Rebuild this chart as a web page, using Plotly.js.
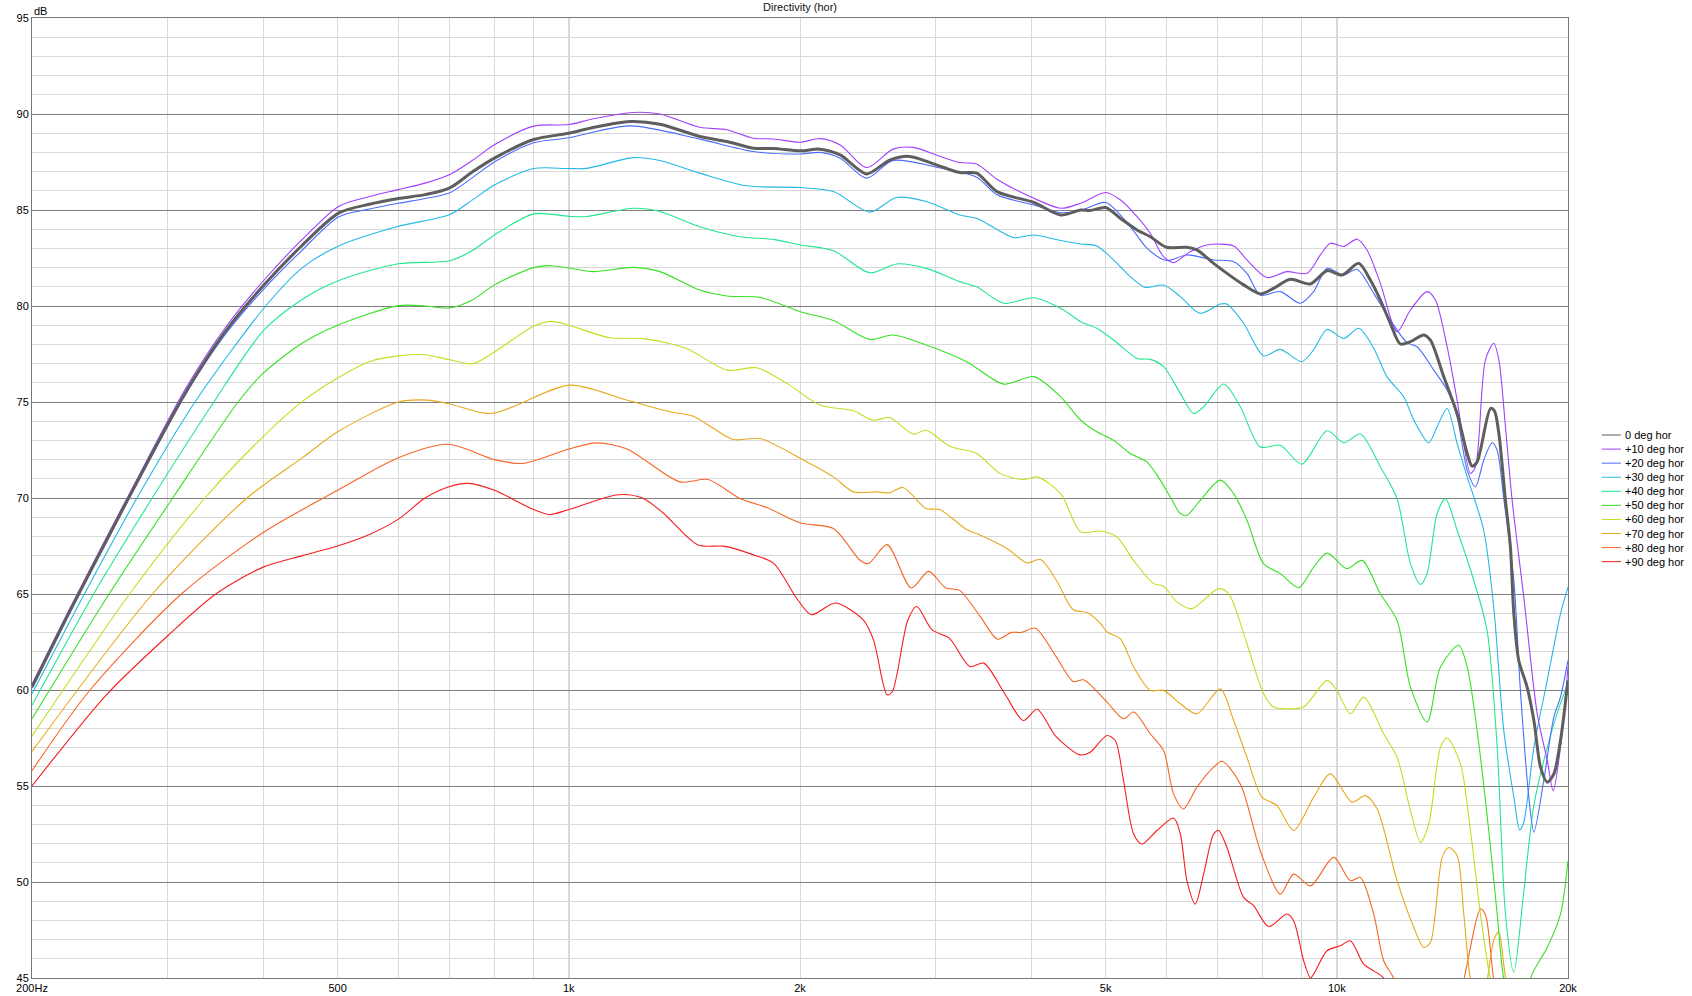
<!DOCTYPE html>
<html>
<head>
<meta charset="utf-8">
<script src="https://cdn.plot.ly/plotly-3.0.1.min.js"></script>
<style>html,body{margin:0;padding:0;background:#fff;}#chart{width:1692px;height:996px;}</style>
</head>
<body>
<div id="chart"></div>
<script>
// ---------------- data ----------------
const deg0Freq = [200,224,252,283,317,356,399,448,502,550,600,650,700,750,800,900,1000,1076,1201,1314,1481,1606,1739,1847,2003,2123,2256,2442,2617,2778,3010,3230,3397,3610,4032,4370,4641,4775,5000,5224,5493,5716,6000,6380,6575,6912,7194,7562,7950,8274,8698,9238,9712,10160,10680,11058,11395,11740,12100,12470,12978,13240,13782,14344,14782,15000,15230,15850,16040,16255,16580,16828,17002,17254,17692,18056,18420,18793,19170,19554,20000];
const deg0Db = [60.15,64.1,68.05,71.9,75.5,78.6,81.0,83.1,84.85,85.3,85.6,85.8,86.15,87.0,87.7,88.67,89.0,89.3,89.61,89.47,88.83,88.57,88.22,88.2,88.08,88.17,87.87,86.88,87.6,87.79,87.35,86.95,86.92,85.96,85.39,84.74,85.0,84.97,85.13,84.57,83.96,83.61,83.06,83.06,82.92,82.22,81.7,81.1,80.63,80.92,81.39,81.15,81.84,81.62,82.22,81.35,80.31,79.1,78.02,78.14,78.49,78.22,76.31,74.4,72.32,71.66,71.88,74.66,74.54,73.36,69.89,67.45,63.97,61.54,60.15,58.41,55.98,55.2,55.63,57.37,60.5];

const deg10Freq = [200,224,252,283,317,356,399,448,502,550,600,650,700,750,800,900,1000,1076,1213,1314,1481,1606,1739,1847,2003,2123,2256,2442,2643,2806,3010,3230,3397,3610,4032,4370,4641,5000,5224,5493,5716,5948,6130,6444,6776,7340,7638,8110,8612,9146,9520,9810,10210,10626,10948,11395,11980,12470,13108,13440,13920,14344,14928,15155,15612,16008,16255,16580,16915,17515,18238,18793,19130,19554,20000];
const deg10Db = [60.3,64.25,68.2,72.05,75.7,78.8,81.25,83.4,85.2,85.7,86.06,86.4,86.85,87.6,88.4,89.37,89.45,89.75,90.08,90.0,89.31,89.18,88.74,88.7,88.53,88.72,88.39,87.21,88.17,88.26,87.87,87.47,87.4,86.6,85.61,85.09,85.35,85.91,85.53,84.66,83.79,82.57,82.26,82.83,83.18,83.13,82.4,81.48,81.79,81.7,82.66,83.27,83.1,83.48,82.92,81.18,78.66,79.79,80.75,80.31,77.88,75.1,71.28,71.62,77.19,78.06,77.19,73.71,69.89,64.85,58.76,56.33,54.76,57.02,61.2];

const deg20Freq = [200,224,252,283,317,356,399,448,502,550,600,650,700,750,800,900,1000,1201,1481,1739,2003,2123,2256,2442,2643,3010,3397,3610,4032,4370,4641,5000,5383,5659,6000,6380,6912,7340,7638,7950,8442,8964,9330,9712,10210,10626,11170,11740,12344,12722,13376,13920,14344,14782,15155,15534,15930,16173,16496,17002,17340,17783,18056,18600,19170,19554,20000];
const deg20Db = [60.1,64.05,68.0,71.8,75.4,78.45,80.8,82.85,84.65,85.05,85.35,85.6,85.9,86.7,87.5,88.5,88.76,89.38,88.69,88.05,87.92,88.0,87.7,86.66,87.58,87.23,86.71,85.79,85.26,84.86,84.97,85.39,84.14,83.01,82.37,82.66,82.4,82.31,81.7,80.57,80.75,80.14,80.75,81.96,81.62,81.91,80.66,79.27,78.09,77.88,76.66,75.62,74.23,71.45,70.58,71.97,72.88,72.49,69.98,65.71,59.98,54.42,52.6,55.3,58.6,59.63,61.54];

const deg30Freq = [200,234,274,326,403,450,500,600,700,750,800,900,1000,1055,1213,1314,1481,1705,2003,2211,2466,2670,2920,3230,3397,3795,4032,4370,4641,4870,5120,5383,5630,5948,6256,6640,7051,7194,7562,8030,8442,9000,9330,9712,10210,10680,11170,11624,12222,12595,13174,13508,13920,14344,14782,15078,15534,16008,16496,17002,17305,17515,18056,18793,19554,20000];
const deg30Db = [59.8,65.0,70.0,75.0,80.0,82.0,83.1,84.15,84.76,85.54,86.3,87.16,87.16,87.17,87.73,87.58,86.92,86.26,86.17,85.96,84.89,85.65,85.44,84.74,84.57,83.56,83.7,83.41,83.23,83.13,82.4,81.53,80.97,81.09,80.49,79.62,80.1,80.1,79.1,77.4,77.74,77.1,77.72,78.78,78.31,78.84,77.8,76.31,75.27,74.06,72.88,73.71,74.66,72.84,71.1,70.06,68.32,64.32,57.9,54.42,52.71,53.11,57.02,60.5,63.97,65.36];

const deg40Freq = [200,240.6,286.8,345,400,450,500,600,700,750,800,900,1000,1055,1213,1314,1481,1671,1847,2003,2211,2466,2670,2920,3230,3397,3683,4032,4370,4641,4870,5120,5493,5716,5948,6256,6510,6708,7124,7488,7950,8442,9000,9712,10210,10732,11395,11980,12470,12850,13108,13508,13850,14344,15078,15692,16173,16580,17002,17515,18056,18793,19554,20000];
const deg40Db = [59.2,65.0,70.0,75.0,78.7,80.35,81.3,82.2,82.36,82.9,83.7,84.8,84.67,84.66,85.09,84.92,84.13,83.61,83.47,83.18,82.88,81.73,82.19,81.96,81.27,81.0,80.14,80.43,79.88,79.18,78.84,78.23,77.27,77.22,76.84,75.45,74.4,74.75,75.94,74.75,72.66,72.75,71.76,73.5,72.88,73.33,71.62,69.97,66.58,65.5,66.06,69.19,69.97,68.32,65.71,63.1,57.02,48.33,45.3,49.5,54.0,57.0,59.3,60.3];

const deg50Freq = [200,252,305,371,400,450,500,600,650,700,750,800,900,950,1000,1076,1213,1314,1481,1606,1775,2003,2211,2466,2643,2920,3296,3683,4032,4370,4641,4870,5120,5383,5659,5890,6100,6256,6380,6640,7051,7340,7638,8030,8442,8920,9330,9712,10312,10786,11395,11980,12470,13108,13646,14415,14782,15230,15770,16173,16496,17002,17515,17960,18793,19554,20000];
const deg50Db = [58.5,65.0,70.0,75.0,76.5,78.07,79.0,80.02,80.0,79.9,80.33,81.1,82.0,82.1,81.98,81.79,82.01,81.79,80.83,80.52,80.45,79.7,79.24,78.26,78.49,77.97,77.1,75.93,76.32,75.27,74.05,73.45,73.01,72.32,71.88,70.93,69.89,69.19,69.1,69.88,70.93,70.23,68.84,66.58,66.06,65.33,66.4,67.13,66.32,66.75,65.01,63.62,60.15,58.33,61.2,62.33,61.2,57.89,52.68,48.33,44.94,43.0,43.5,45.2,46.59,48.33,51.1];

const deg60Freq = [200,268,336,400,450,500,550,600,650,700,750,800,900,950,1000,1131,1250,1423,1606,1757,1923,2123,2347,2491,2617,2806,2920,3133,3397,3646,3912,4073,4370,4641,4920,5172,5438,5774,5948,6192,6477,7016,7230,7638,8030,8274,8612,9054,9712,10000,10414,10840,11508,11980,12470,12850,13174,13646,13920,14488,14928,15383,15850,16500,17500];
const deg60Db = [57.6,65.0,70.0,73.2,75.03,76.25,77.1,77.4,77.46,77.2,77.0,77.6,78.95,79.2,79.0,78.35,78.3,77.79,76.66,76.78,75.97,74.84,74.54,74.05,74.19,73.33,73.53,72.7,72.32,71.27,70.96,71.1,70.23,68.23,68.28,67.97,66.75,65.54,65.4,64.59,64.24,65.28,65.02,62.41,59.8,59.11,59.02,59.11,60.5,59.98,58.76,59.63,57.72,56.5,53.72,52.07,53.02,57.02,57.5,56.15,52.68,48.33,44.9,42.0,40.0];

const deg70Freq = [200,287,381,450,500,600,654,700,792,1003,1189,1354,1452,1638,1775,2003,2211,2347,2516,2617,2724,2920,3040,3296,3397,3720,3951,4114,4310,4538,4730,4920,5020,5224,5438,5716,5948,6256,6575,7051,7340,7638,7990,8358,8786,9330,9810,10466,10895,11282,11980,12595,12978,13240,13715,13990,14344,14633,14928,15383,16008,16255,16496,16828,17500];
const deg70Db = [56.8,65.0,70.0,72.1,73.45,75.0,75.1,74.9,74.4,75.88,75.1,74.49,74.26,73.05,73.1,72.06,71.1,70.32,70.32,70.27,70.55,69.45,69.4,68.36,68.15,67.37,66.62,66.8,65.74,64.18,64.04,63.48,63.02,62.67,61.2,59.98,59.98,59.28,58.76,60.06,58.41,56.5,54.42,53.98,52.68,54.42,55.63,54.16,54.5,53.81,50.07,47.64,46.59,46.85,51.28,51.8,51.37,48.33,44.94,43.0,46.95,47.4,45.7,43.0,40.0];

const deg80Freq = [200,238,313,400,500,600,697,800,870,1000,1086,1189,1395,1518,1671,1811,2003,2211,2394,2455,2597,2792,2941,3097,3226,3433,3614,3769,3888,4051,4310,4538,4680,5020,5276,5438,5716,5948,6130,6316,6575,6912,7088,7488,7950,8442,8786,9238,9908,10414,10732,11170,11508,11860,12500,14000,14633,15383,15612,16008,16800];
const deg80Db = [55.8,60.0,65.0,68.2,70.4,72.1,72.8,72.0,71.8,72.55,72.87,72.57,70.84,70.96,69.97,69.5,68.7,68.41,66.76,66.58,67.57,65.31,66.18,65.31,65.19,63.83,62.65,63.0,63.0,63.22,61.74,60.44,60.53,59.37,58.5,58.85,57.72,56.85,54.59,53.81,54.94,55.98,56.29,55.11,51.63,49.37,50.41,49.8,51.28,50.07,50.24,48.33,45.9,45.0,43.0,42.0,44.9,48.6,48.3,44.9,40.0];

const deg90Freq = [200,250,300,347,400,450,500,550,600,650,700,740,800,900,945,1000,1160,1247,1327,1471,1598,1736,1847,1986,2070,2224,2416,2493,2597,2638,2764,2838,2970,3129,3328,3470,3692,3908,4071,4310,4632,4775,5020,5146,5276,5438,5575,5832,6130,6256,6380,6542,6708,6912,7016,7194,7562,7792,8152,8612,8786,9054,9238,9330,9712,10108,10414,10840,11170,11508,12000,13000];
const deg90Db = [55.0,59.75,62.8,65.0,66.4,67.0,67.5,68.1,68.9,70.0,70.6,70.76,70.4,69.4,69.14,69.4,70.17,70.0,69.22,67.57,67.48,67.05,66.61,64.7,63.92,64.53,63.66,62.61,59.75,59.92,63.66,64.35,63.14,62.7,61.22,61.4,59.83,58.41,59.0,57.57,56.62,56.76,57.63,57.37,55.28,52.5,51.98,52.68,53.33,52.5,50.07,48.85,50.41,52.5,52.68,51.8,49.2,48.77,47.68,48.33,47.98,45.9,45.0,45.2,46.42,46.68,46.94,45.72,45.37,45.0,43.5,42.0];

const seriesNames = ['0 deg hor','+10 deg hor','+20 deg hor','+30 deg hor','+40 deg hor','+50 deg hor','+60 deg hor','+70 deg hor','+80 deg hor','+90 deg hor'];
const seriesColors = ['#5e5e5e','#a040ff','#4a6cff','#22b8e6','#22e68e','#38e024','#bde020','#e8a81c','#f86424','#f81c1c'];
const seriesFreqs = [deg0Freq,deg10Freq,deg20Freq,deg30Freq,deg40Freq,deg50Freq,deg60Freq,deg70Freq,deg80Freq,deg90Freq];
const seriesDbs = [deg0Db,deg10Db,deg20Db,deg30Db,deg40Db,deg50Db,deg60Db,deg70Db,deg80Db,deg90Db];

const xTickVals = [200,300,400,500,600,700,800,900,1000,2000,3000,4000,5000,6000,7000,8000,9000,10000,20000];
const xTickText = ['200Hz','','','500','','','','','1k','2k','','','5k','','','','','10k','20k'];
const xMajorGrid = [1000,10000];

// ---------------- traces ----------------
const traces = [];
for (let i = seriesNames.length - 1; i >= 0; i--) {
  traces.push({
    type: 'scatter', mode: 'lines',
    name: seriesNames[i],
    x: seriesFreqs[i], y: seriesDbs[i],
    line: {color: seriesColors[i], width: i === 0 ? 3 : 1.1, shape: 'spline', smoothing: 0.8},
    hoverinfo: 'skip'
  });
}

// ---------------- layout ----------------
const shapes = xMajorGrid.map(f => ({
  type: 'line', xref: 'x', yref: 'paper', x0: f, x1: f, y0: 0, y1: 1,
  layer: 'between', line: {color: '#7a7a7a', width: 1}
}));
const annotations = [{
  text: 'dB', xref: 'paper', yref: 'paper', x: 0, y: 1.0073,
  xanchor: 'left', yanchor: 'middle', showarrow: false, font: {size: 11, color: '#000'}
}];
const legRow0 = 0.5656, legStep = 0.014656;
seriesNames.forEach((n, i) => {
  const yy = legRow0 - i * legStep;
  shapes.push({type: 'line', xref: 'paper', yref: 'paper', x0: 1.0219, x1: 1.0345, y0: yy, y1: yy,
    line: {color: seriesColors[i], width: 1}});
  annotations.push({text: n, xref: 'paper', yref: 'paper', x: 1.0358, y: yy,
    xanchor: 'left', yanchor: 'middle', showarrow: false, font: {size: 11, color: '#000'}});
});

const layout = {
  width: 1692, height: 996,
  margin: {l: 32, r: 124, t: 18, b: 18, pad: 0},
  paper_bgcolor: '#ffffff', plot_bgcolor: '#ffffff',
  showlegend: false,
  font: {family: 'Liberation Sans, Arial, sans-serif', size: 11, color: '#000'},
  title: {text: 'Directivity (hor)', x: 0.5, xref: 'paper', xanchor: 'center',
          y: 0.9925, yref: 'container', yanchor: 'middle', font: {size: 11, color: '#111'}},
  xaxis: {
    type: 'log', range: [Math.log10(200), Math.log10(20000)],
    tickmode: 'array', tickvals: xTickVals, ticktext: xTickText,
    showgrid: true, gridcolor: '#d9d9d9', gridwidth: 1,
    showline: true, mirror: true, linecolor: '#777777', linewidth: 1,
    ticks: '', zeroline: false, tickfont: {size: 11, color: '#000'}, fixedrange: true
  },
  yaxis: {
    range: [45, 95], tickmode: 'linear', tick0: 45, dtick: 5,
    showgrid: true, gridcolor: '#7f7f7f', gridwidth: 1,
    minor: {tickmode: 'linear', tick0: 45, dtick: 1, showgrid: true, gridcolor: '#d9d9d9', gridwidth: 1, ticks: ''},
    showline: true, mirror: true, linecolor: '#777777', linewidth: 1,
    ticks: '', zeroline: false, tickfont: {size: 11, color: '#000'}, fixedrange: true
  },
  shapes: shapes,
  annotations: annotations
};

Plotly.newPlot('chart', traces, layout, {displayModeBar: false, staticPlot: true});
</script>
</body>
</html>
